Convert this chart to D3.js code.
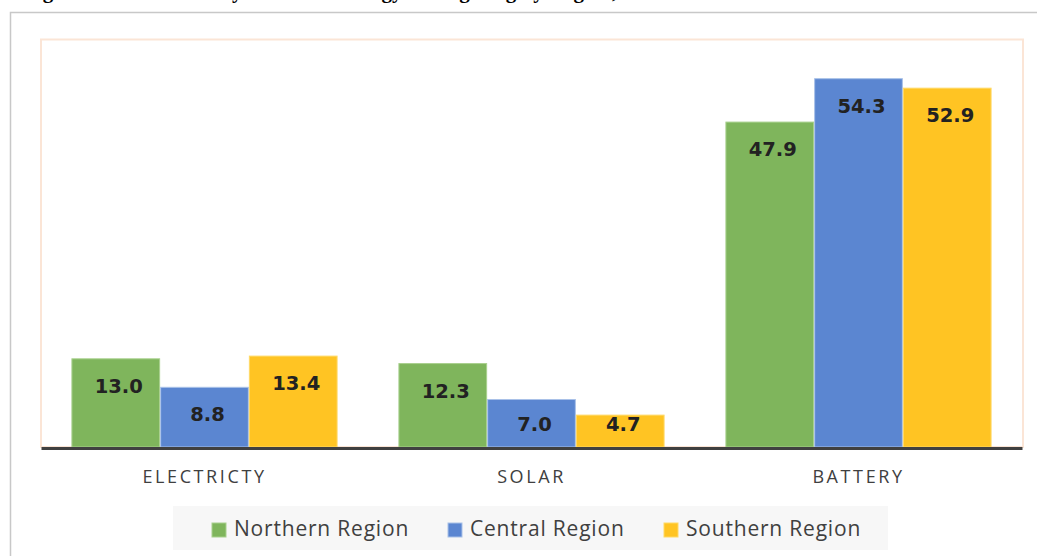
<!DOCTYPE html>
<html>
<head>
<meta charset="utf-8">
<script src="https://cdn.jsdelivr.net/npm/d3@7/dist/d3.min.js"></script>
<style>
  html, body { margin: 0; padding: 0; background: #ffffff; }
  svg { display: block; }
</style>
</head>
<body>
<svg id="chart" width="1037" height="556"></svg>
<script>
// ---- data ----
const categories = ["ELECTRICTY", "SOLAR", "BATTERY"];
const seriesNames = ["Northern Region", "Central Region", "Southern Region"];
const northern = [13.0, 12.3, 47.9];
const central = [8.8, 7.0, 54.3];
const southern = [13.4, 4.7, 52.9];
const seriesColors = ["#7fb55c", "#5b86d1", "#ffc423"];
const seriesStroke = ["#a8d08d", "#a9c1e8", "#ffd966"];
const titleText = "Figure 4: Households by Source of Energy for Lighting by Region, 2023";

const series = [northern, central, southern];

const svg = d3.select("#chart");
const W = 1037, H = 556;

// outer frame (grey)
svg.append("rect")
  .attr("x", 10.5).attr("y", 12.5)
  .attr("width", W + 20).attr("height", H + 20)
  .attr("fill", "none").attr("stroke", "#c8c8c8").attr("stroke-width", 1.5);

// clipped title (only descenders visible)
svg.append("text")
  .attr("x", 24).attr("y", -2)
  .attr("font-family", "Liberation Serif").attr("font-weight", "bold")
  .attr("font-size", 21).attr("fill", "#000")
  .text(titleText);

// plot area frame (peach)
const plotLeft = 41, plotRight = 1022, plotTop = 40, baseY = 447;
svg.append("rect")
  .attr("x", plotLeft).attr("y", 39.5)
  .attr("width", plotRight - plotLeft + 1).attr("height", baseY - 39.5)
  .attr("fill", "none").attr("stroke", "#fbe5d6").attr("stroke-width", 2);

// scales
const x0 = d3.scaleBand().domain(categories).range([plotLeft, plotRight])
  .paddingInner(0.186).paddingOuter(0.093);
const x1 = d3.scaleBand().domain(seriesNames).range([0, x0.bandwidth()]);
const y = d3.scaleLinear().domain([0, 60]).range([baseY, plotTop]);

// bars
const rows = [];
categories.forEach((c, ci) => {
  seriesNames.forEach((s, si) => {
    rows.push({ cat: c, ser: s, si: si, v: series[si][ci] });
  });
});

const g = svg.append("g");
g.selectAll("rect.bar").data(rows).enter().append("rect")
  .attr("class", "bar")
  .attr("x", d => x0(d.cat) + x1(d.ser) + 0.5)
  .attr("y", d => y(d.v))
  .attr("width", x1.bandwidth() - 1)
  .attr("height", d => y(0) - y(d.v))
  .attr("fill", d => seriesColors[d.si])
  .attr("stroke", d => seriesStroke[d.si])
  .attr("stroke-width", 1);

// value labels
g.selectAll("text.val").data(rows).enter().append("text")
  .attr("class", "val")
  .attr("x", d => x0(d.cat) + x1(d.ser) + x1.bandwidth() / 2 + 3)
  .attr("y", d => Math.min(y(d.v) + 27, y(0) - 23))
  .attr("dy", "0.36em")
  .attr("text-anchor", "middle")
  .attr("font-family", "DejaVu Sans").attr("font-weight", "bold")
  .attr("font-size", 19.5).attr("fill", "#222222")
  .text(d => d.v.toFixed(1));

// x axis
const xAxis = svg.append("g")
  .attr("transform", `translate(0,${baseY + 1})`)
  .call(d3.axisBottom(x0).tickSize(0).tickPadding(0).tickSizeOuter(0));
xAxis.select(".domain").attr("stroke", "#404040").attr("stroke-width", 3);
xAxis.selectAll(".tick text")
  .attr("y", 29).attr("dy", "0.35em")
  .attr("font-family", "Open Sans").attr("font-size", 18)
  .attr("letter-spacing", "2.6px")
  .attr("fill", "#404040");

// legend
const legend = svg.append("g");
legend.append("rect")
  .attr("x", 173).attr("y", 506).attr("width", 715).attr("height", 44)
  .attr("fill", "#f7f7f7");
const legSquareX = [212, 448, 664];
const legItems = legend.selectAll("g.item").data(seriesNames).enter().append("g")
  .attr("class", "item")
  .attr("transform", (d, i) => `translate(${legSquareX[i]},0)`);
legItems.append("rect")
  .attr("x", 0).attr("y", 523).attr("width", 14).attr("height", 14)
  .attr("fill", (d, i) => seriesColors[i])
  .attr("stroke", (d, i) => seriesStroke[i]).attr("stroke-width", 1);
legItems.append("text")
  .attr("x", 22).attr("y", 536)
  .attr("font-family", "Open Sans").attr("font-size", 21)
  .attr("letter-spacing", "0.8px")
  .attr("fill", "#404040")
  .text(d => d);
</script>
</body>
</html>
